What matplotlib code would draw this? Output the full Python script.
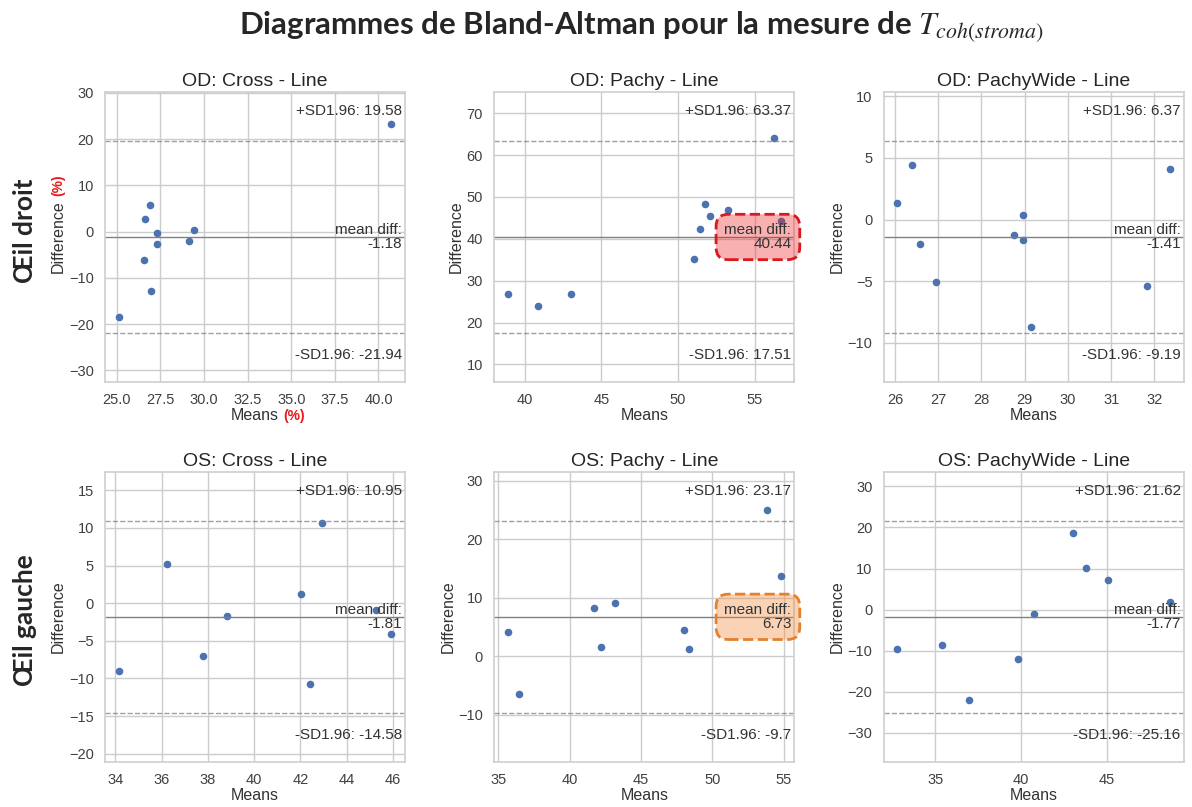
import numpy as np
import matplotlib.pyplot as plt
import seaborn as sns
from matplotlib.ticker import MultipleLocator

sns.set_theme(style="whitegrid")
plt.rcParams['font.family'] = ['Liberation Sans', 'DejaVu Sans']

# panel titles, row by row
titles = ["OD: Cross - Line", "OD: Pachy - Line", "OD: PachyWide - Line",
          "OS: Cross - Line", "OS: Pachy - Line", "OS: PachyWide - Line"]

# means / differences
od_cross_means = [25.1, 26.62, 26.93, 27.33, 27.33, 26.58, 26.98, 29.12, 29.41, 40.74]
od_cross_diffs = [-18.57, 2.6, 5.7, -0.4, -2.76, -6.2, -12.78, -2.05, 0.31, 23.2]

od_pachy_means = [38.89, 40.89, 42.98, 51.02, 51.46, 51.76, 52.11, 53.26, 56.7, 56.28]
od_pachy_diffs = [26.8, 24.04, 26.8, 35.1, 42.29, 48.2, 45.45, 46.95, 44.34, 64.0]

od_wide_means = [26.05, 26.39, 26.59, 26.95, 28.76, 28.96, 28.96, 29.15, 31.82, 32.36]
od_wide_diffs = [1.31, 4.45, -2.01, -5.07, -1.23, 0.35, -1.69, -8.69, -5.39, 4.13]

os_cross_means = [34.14, 36.23, 37.78, 38.82, 42.01, 42.40, 42.91, 45.27, 45.93]
os_cross_diffs = [-9.04, 5.26, -7.02, -1.67, 1.27, -10.70, 10.70, -0.92, -4.12]

os_pachy_means = [35.68, 36.45, 41.70, 42.22, 43.21, 47.99, 48.40, 53.81, 54.79]
os_pachy_diffs = [4.14, -6.52, 8.22, 1.59, 9.07, 4.42, 1.19, 25.04, 13.65]

os_wide_means = [32.78, 35.37, 36.97, 39.82, 40.78, 43.0, 43.77, 45.06, 48.68]
os_wide_diffs = [-9.68, -8.71, -22.1, -12.1, -1.13, 18.7, 10.08, 7.1, 1.77]

# mean difference and limits of agreement shown on each panel
mean_diffs = [-1.18, 40.44, -1.41, -1.81, 6.73, -1.77]
upper_limits = [19.58, 63.37, 6.37, 10.95, 23.17, 21.62]
lower_limits = [-21.94, 17.51, -9.19, -14.58, -9.7, -25.16]

all_means = [od_cross_means, od_pachy_means, od_wide_means,
             os_cross_means, os_pachy_means, os_wide_means]
all_diffs = [od_cross_diffs, od_pachy_diffs, od_wide_diffs,
             os_cross_diffs, os_pachy_diffs, os_wide_diffs]

# tick spacing used on each panel (x, y)
tick_steps = [(2.5, 10), (5, 10), (1, 5), (2, 5), (5, 10), (5, 10)]

# highlighted "mean diff" boxes (panel index -> face, edge)
highlight = {1: ((0.93, 0.12, 0.12, 0.35), '#d9191e'),
             4: ((0.95, 0.55, 0.25, 0.38), '#e5802c')}


def mean_diff_plot(ax, means, diffs, mean_diff, lower, upper, title, box=None):
    """draws one Bland-Altman panel like statsmodels' mean_diff_plot"""
    ax.scatter(means, diffs, s=20, color='#4c72b0', zorder=2)
    ax.axhline(mean_diff, color='gray', linewidth=1)
    for lim in [lower, upper]:
        ax.axhline(lim, color='gray', linewidth=1, linestyle='--', alpha=0.75)

    bbox = None
    if box is not None:
        bbox = dict(boxstyle='round,pad=0.55,rounding_size=0.8',
                    fc=box[0], ec=box[1], linestyle='--', linewidth=2)
    ax.annotate(f'mean diff:\n{mean_diff}', xy=(0.99, mean_diff),
                xycoords=('axes fraction', 'data'), ha='right', va='center',
                fontsize=11, color='#333333', bbox=bbox, zorder=5,
                linespacing=1.05)

    half_ylim = 1.51 * (upper - lower) / 2
    ax.set_ylim(mean_diff - half_ylim, mean_diff + half_ylim)

    ax.annotate(f'-SD1.96: {lower}', xy=(0.99, 0.07), xycoords='axes fraction',
                ha='right', va='bottom', fontsize=11, color='#333333')
    ax.annotate(f'+SD1.96: {upper}', xy=(0.99, 0.92), xycoords='axes fraction',
                ha='right', fontsize=11, color='#333333')

    ax.set_title(title, fontsize=14, pad=4, color='#262626')
    ax.set_xlabel('Means', fontsize=11.5, labelpad=1, color='#333333')
    ax.set_ylabel('Difference', fontsize=11.5, labelpad=2, color='#333333')
    ax.tick_params(labelsize=10.5, pad=2, colors='#404040')
    for spine in ax.spines.values():
        spine.set_color('#d0d0d0')


fig, axes = plt.subplots(2, 3, figsize=(11.92, 8.07), dpi=100)
fig.subplots_adjust(left=0.088, right=0.993, top=0.886, bottom=0.056,
                    wspace=0.297, hspace=0.31)

for i, ax in enumerate(axes.flat):
    mean_diff_plot(ax, all_means[i], all_diffs[i], mean_diffs[i],
                   lower_limits[i], upper_limits[i], titles[i], highlight.get(i))
    ax.xaxis.set_major_locator(MultipleLocator(tick_steps[i][0]))
    ax.yaxis.set_major_locator(MultipleLocator(tick_steps[i][1]))

# red "(%)" units added on the first panel
ax0 = axes[0, 0]
ax0.annotate('(%)', xy=(1, 0.5), xycoords=ax0.xaxis.label, xytext=(3, 0),
             textcoords='offset points', ha='left', va='center',
             fontsize=10, fontweight='bold', color='#e8191c')
ax0.annotate('(%)', xy=(0.5, 1), xycoords=ax0.yaxis.label, xytext=(0, 3),
             textcoords='offset points', ha='center', va='bottom', rotation=90,
             fontsize=10, fontweight='bold', color='#e8191c')

# row labels
fig.text(0.021, 0.714, 'Œil droit', rotation=90, ha='center', va='center',
         fontsize=19, fontweight='bold', family=['Lato', 'DejaVu Sans'])
fig.text(0.021, 0.232, 'Œil gauche', rotation=90, ha='center', va='center',
         fontsize=19, fontweight='bold', family=['Lato', 'DejaVu Sans'])

fig.text(0.538, 0.967, r'Diagrammes de Bland-Altman pour la mesure de $T_{coh(stroma)}$',
         ha='center', va='center', fontsize=22.5, fontweight='bold',
         family=['Lato', 'DejaVu Sans'], math_fontfamily='stix')

fig.savefig('out.png', dpi=100)
